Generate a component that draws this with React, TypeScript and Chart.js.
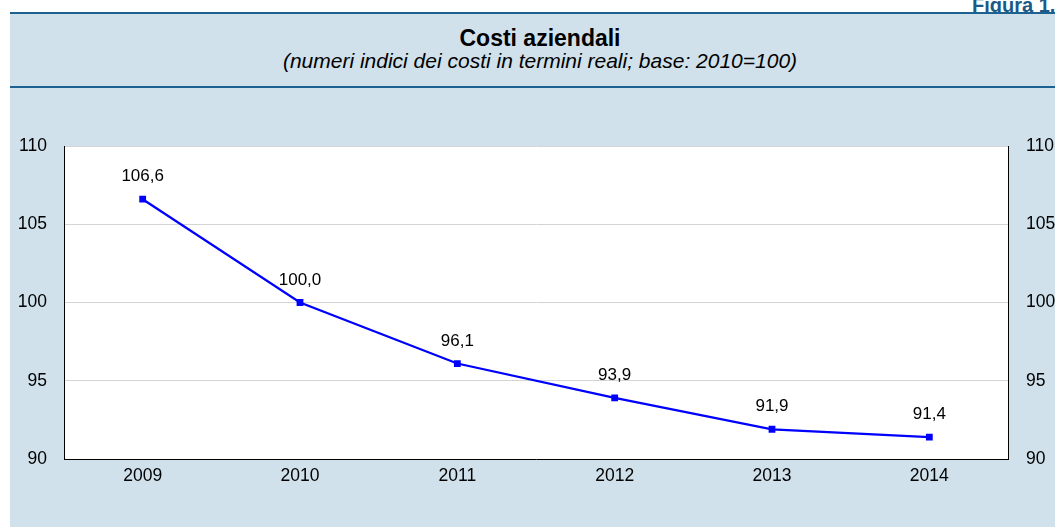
import React, { useEffect, useRef } from "react";
import { Chart, registerables } from "chart.js";

Chart.register(...registerables);

const categories: string[] = ["2009", "2010", "2011", "2012", "2013", "2014"];
const costValues: number[] = [106.6, 100.0, 96.1, 93.9, 91.9, 91.4];
const yTicks: number[] = [90, 95, 100, 105, 110];

const FONT = "'Liberation Sans', Arial, Helvetica, sans-serif";
const BG = "#D0E1EB";
const RULE = "#1D6190";

const dataLabelPlugin = {
  id: "dataLabels",
  afterDatasetsDraw(chart: any) {
    const ctx = chart.ctx;
    const meta = chart.getDatasetMeta(0);
    ctx.save();
    ctx.font = `17px ${FONT}`;
    ctx.fillStyle = "#000";
    ctx.textAlign = "center";
    ctx.textBaseline = "alphabetic";
    meta.data.forEach((pt: any, i: number) => {
      const v = costValues[i];
      ctx.fillText(v.toFixed(1).replace(".", ","), pt.x, pt.y - 18);
    });
    ctx.restore();
  },
};

export default function App() {
  const canvasRef = useRef<HTMLCanvasElement | null>(null);

  useEffect(() => {
    if (!canvasRef.current) return;
    const tickFont = { family: FONT, size: 17.5 };
    const chart = new Chart(canvasRef.current, {
      type: "line",
      data: {
        labels: categories,
        datasets: [
          {
            data: costValues,
            borderColor: "#0000FF",
            backgroundColor: "#0000FF",
            borderWidth: 2.25,
            pointStyle: "rect",
            pointRadius: 4.8,
            pointBorderWidth: 0,
            tension: 0,
            fill: false,
          },
        ],
      },
      options: {
        animation: false,
        responsive: false,
        maintainAspectRatio: false,
        devicePixelRatio: 1,
        layout: { padding: { top: 56, left: 0, right: 0, bottom: 0 } },
        plugins: {
          legend: { display: false },
          tooltip: { enabled: false },
          title: { display: false },
        },
        scales: {
          x: {
            type: "category",
            offset: true,
            grid: { display: false, drawTicks: false },
            border: { display: true, color: "#000", width: 1 },
            ticks: { font: tickFont, color: "#000", padding: 7, maxRotation: 0 },
            afterFit: (s: any) => {
              s.height = 68;
            },
          },
          y: {
            position: "left",
            min: 90,
            max: 110,
            afterBuildTicks: (s: any) => {
              s.ticks = yTicks.map((v) => ({ value: v }));
            },
            grid: { color: "#D4D4D4", lineWidth: 1, drawTicks: false },
            border: { display: true, color: "#000", width: 1 },
            ticks: { font: tickFont, color: "#000", padding: 17 },
            afterFit: (s: any) => {
              s.width = 54;
            },
          },
          y2: {
            position: "right",
            min: 90,
            max: 110,
            afterBuildTicks: (s: any) => {
              s.ticks = yTicks.map((v) => ({ value: v }));
            },
            grid: { display: false, drawTicks: false },
            border: { display: true, color: "#000", width: 1 },
            ticks: { font: tickFont, color: "#000", padding: 18 },
            afterFit: (s: any) => {
              s.width = 47;
            },
          },
        },
      } as any,
      plugins: [dataLabelPlugin],
    });
    return () => chart.destroy();
  }, []);

  return (
    <div
      style={{
        position: "absolute",
        left: 0,
        top: 0,
        width: 1055,
        height: 527,
        overflow: "hidden",
        background: "#fff",
        fontFamily: FONT,
      }}
    >
      <div
        style={{
          position: "absolute",
          left: 972,
          top: -5,
          fontSize: 20,
          lineHeight: "20px",
          fontWeight: "bold",
          color: "#1B5A87",
          whiteSpace: "nowrap",
        }}
      >
        Figura 1.
      </div>
      <div
        style={{
          position: "absolute",
          left: 10,
          top: 13,
          width: 1060,
          height: 514,
          background: BG,
        }}
      />
      <div style={{ position: "absolute", left: 10, top: 12, width: 1060, height: 2, background: RULE }} />
      <div style={{ position: "absolute", left: 10, top: 86, width: 1060, height: 2, background: RULE }} />
      <div
        style={{
          position: "absolute",
          left: 10,
          top: 25,
          width: 1060,
          textAlign: "center",
          fontSize: 23,
          lineHeight: "26px",
          fontWeight: "bold",
          color: "#000",
        }}
      >
        Costi aziendali
      </div>
      <div
        style={{
          position: "absolute",
          left: 10,
          top: 49,
          width: 1060,
          textAlign: "center",
          fontSize: 21,
          lineHeight: "24px",
          fontStyle: "italic",
          color: "#000",
        }}
      >
        (numeri indici dei costi in termini reali; base: 2010=100)
      </div>
      <div
        style={{
          position: "absolute",
          left: 10,
          top: 90,
          width: 1045,
          height: 437,
        }}
      >
        <div
          style={{
            position: "absolute",
            left: 54,
            top: 56,
            width: 944,
            height: 313,
            background: "#fff",
          }}
        />
        <canvas
          ref={canvasRef}
          width={1045}
          height={437}
          style={{ position: "absolute", left: 0, top: 0, width: 1045, height: 437 }}
        />
      </div>
    </div>
  );
}
